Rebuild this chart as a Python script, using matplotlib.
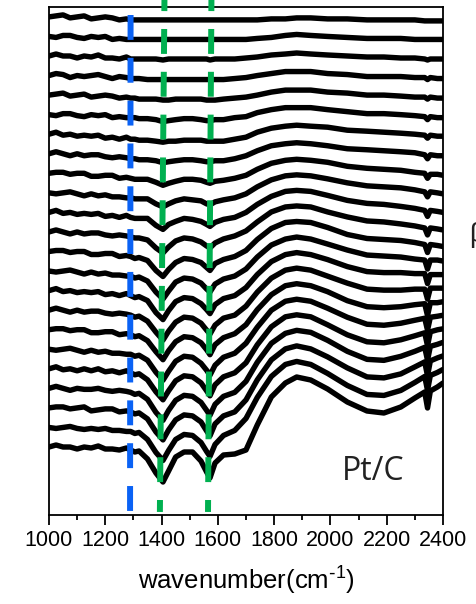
import matplotlib
matplotlib.use("Agg")
import matplotlib.pyplot as plt
from matplotlib.ticker import MultipleLocator, NullLocator
import matplotlib.transforms as mtransforms

plt.rcParams['font.family'] = ['Liberation Sans', 'DejaVu Sans']
plt.rcParams['mathtext.default'] = 'regular'

# wavenumber grid (cm-1) shared by all spectra
wavenumber = [1000, 1025, 1050, 1075, 1100, 1125, 1150, 1175, 1200, 1225, 1250, 1275,
              1290, 1305, 1320, 1350, 1380, 1405, 1425, 1450, 1480, 1510, 1540, 1560,
              1572, 1590, 1620, 1660,
              1700, 1740, 1790, 1840, 1880, 1930, 1990, 2060, 2130, 2190, 2250, 2300,
              2335, 2345, 2355, 2380, 2400]

# spectra relative to their value at 1000 cm-1 (a.u.), listed bottom to top
spectra = [
    [0, 2, 0, 0, -2, 0, -1, 1, -2, -2, -3, -1,
     -3, -5, -4, -12, -26, -35, -24, -10, -5, -5, -14, -25, -31, -16, -8, -7,
     -3, 22, 50, 64, 70, 67, 58, 45, 36, 34, 40, 49, 55, 39, 56, 60, 64],
    [0, -1, 0, 1, -1, -2, -1, -2, -1, -3, -3, -4,
     -4, -6, -5, -12, -25, -33, -23, -12, -7, -8, -15, -24, -29, -17, -8, -3,
     9, 30, 51, 63, 66, 63, 54, 42, 33, 32, 37, 45, 51, 37, 52, 55, 58],
    [0, 1, 1, -1, 0, 1, -3, -2, -1, -1, -4, -3,
     -4, -6, -5, -11, -24, -32, -22, -12, -7, -8, -14, -23, -28, -16, -8, -4,
     8, 28, 48, 59, 62, 59, 51, 40, 31, 30, 34, 41, 46, 32, 47, 50, 52],
    [0, 2, 0, -2, 0, -1, -1, 0, -2, -3, -2, -3,
     -4, -6, -5, -11, -24, -32, -22, -12, -7, -8, -14, -22, -27, -16, -8, -4,
     7, 26, 45, 55, 58, 56, 48, 37, 29, 28, 32, 37, 41, 28, 42, 44, 46],
    [0, 2, -1, 0, -2, 0, -2, 0, -3, -2, -4, -2,
     -4, -6, -5, -11, -23, -31, -22, -12, -7, -8, -14, -22, -27, -16, -8, -4,
     6, 24, 42, 52, 54, 52, 44, 34, 27, 26, 29, 33, 36, 23, 37, 39, 40],
    [0, -1, 0, 1, -1, -3, -1, -3, -2, -4, -4, -5,
     -5, -7, -6, -11, -23, -31, -22, -12, -7, -8, -14, -21, -26, -16, -8, -4,
     6, 22, 39, 48, 50, 48, 41, 32, 25, 24, 26, 29, 31, 19, 32, 33, 34],
    [0, 1, 1, -1, 0, 0, -3, -3, -2, -2, -5, -4,
     -5, -7, -6, -11, -22, -30, -21, -12, -7, -8, -13, -20, -25, -15, -8, -4,
     5, 20, 35, 44, 46, 44, 38, 29, 23, 22, 23, 25, 26, 14, 27, 27, 28],
    [0, 2, 0, -2, 0, -2, -1, -1, -3, -4, -3, -4,
     -5, -7, -6, -11, -22, -30, -21, -12, -7, -8, -13, -20, -24, -15, -8, -5,
     4, 18, 32, 40, 42, 40, 34, 27, 21, 20, 20, 21, 21, 11, 22, 22, 22],
    [0, 2, -1, 0, -2, -1, -2, -1, -4, -3, -5, -3,
     -5, -7, -6, -10, -22, -29, -20, -11, -7, -8, -13, -19, -23, -14, -8, -5,
     3, 16, 29, 36, 38, 36, 31, 24, 19, 18, 18, 17, 17, 7, 16, 16, 16],
    [0, -1, 0, 1, -1, -3, -1, -3, -2, -4, -4, -5,
     -5, -7, -6, -10, -21, -28, -20, -11, -7, -8, -12, -18, -21, -13, -8, -5,
     2, 14, 26, 32, 34, 32, 27, 21, 16, 15, 14, 12, 11, 2, 11, 11, 10],
    [0, 1, 1, -1, 0, 0, -3, -3, -2, -2, -5, -4,
     -5, -7, -6, -9, -19, -25, -18, -11, -7, -8, -11, -16, -19, -12, -8, -5,
     1, 12, 23, 29, 30, 29, 24, 17, 13, 12, 11, 9, 7, -1, 7, 6, 5],
    [0, 2, 0, -2, 0, -2, -1, -1, -3, -4, -3, -4,
     -5, -6, -6, -8, -16, -21, -15, -9, -6, -7, -10, -14, -16, -11, -7, -4,
     1, 10, 20, 25, 26, 25, 20, 15, 11, 10, 8, 6, 4, -3, 4, 3, 2],
    [0, 2, -1, 0, -2, -1, -2, -1, -4, -3, -5, -3,
     -5, -6, -6, -6, -13, -17, -12, -9, -6, -7, -9, -12, -14, -10, -7, -5,
     0, 8, 16, 21, 22, 21, 17, 12, 9, 8, 6, 4, 2, -4, 2, 1, 0],
    [0, -1, 0, 1, -1, -3, -1, -3, -2, -4, -4, -5,
     -5, -6, -6, -6, -11, -14, -11, -8, -6, -7, -8, -11, -12, -9, -7, -5,
     -1, 6, 13, 17, 18, 17, 14, 10, 7, 6, 5, 3, 1, -4, 1, 0, -1],
    [0, 1, 1, -1, 0, 0, -3, -3, -2, -2, -5, -4,
     -5, -6, -6, -6, -9, -12, -10, -8, -6, -6, -7, -9, -10, -8, -7, -5,
     -2, 4, 10, 13, 14, 13, 11, 7, 5, 4, 3, 1, 0, -5, -1, -1, -2],
    [0, 2, 0, -2, 0, -2, -1, -1, -3, -4, -3, -4,
     -5, -5, -6, -6, -7, -9, -8, -7, -6, -6, -7, -8, -8, -7, -7, -5,
     -2, 3, 8, 10, 11, 10, 8, 5, 4, 3, 2, 1, -1, -5, -1, -2, -2],
    [0, 2, -1, 0, -2, -1, -2, -1, -4, -3, -5, -3,
     -5, -5, -6, -6, -7, -8, -7, -7, -6, -6, -6, -7, -7, -7, -7, -5,
     -3, 2, 6, 8, 9, 8, 7, 4, 3, 2, 1, 0, -1, -4, -1, -2, -2],
    [0, -1, 1, 1, -1, -2, 0, -1, 0, -3, -2, -3,
     -3, -3, -4, -4, -5, -7, -6, -5, -4, -4, -5, -6, -6, -5, -5, -3,
     -2, 2, 5, 7, 7, 7, 5, 3, 1, 1, 0, -1, -2, -5, -2, -3, -3],
    [0, 1, 2, -1, 0, 1, -2, -1, 0, -1, -3, -2,
     -3, -3, -4, -4, -4, -5, -5, -4, -4, -4, -4, -5, -5, -5, -4, -3,
     -2, 0, 3, 5, 5, 5, 3, 2, 0, 0, -1, -2, -2, -4, -2, -3, -3],
    [0, 2, 1, -2, 0, -1, 0, 1, -1, -3, -1, -2,
     -3, -3, -3, -4, -4, -4, -4, -4, -4, -4, -4, -4, -4, -4, -4, -3,
     -2, 0, 2, 4, 4, 4, 2, 1, -1, -1, -1, -2, -2, -4, -2, -3, -3],
    [0, 2, 0, 0, -2, 0, -1, 1, -2, -2, -3, -1,
     -3, -3, -3, -3, -3, -4, -3, -3, -3, -3, -3, -3, -4, -3, -3, -3,
     -2, -1, 1, 2, 3, 2, 1, 0, -1, -1, -2, -2, -3, -4, -3, -3, -3],
    [0, -1, 1, 1, -1, -2, 0, -1, 0, -3, -2, -3,
     -3, -3, -3, -3, -3, -3, -3, -3, -3, -3, -3, -3, -3, -3, -3, -3,
     -3, -2, -1, 1, 2, 1, 0, -1, -2, -2, -2, -3, -3, -3, -3, -3, -3],
    [0, 1, 2, -1, 0, 1, -2, -1, 0, -1, -3, -2,
     -3, -3, -3, -3, -3, -3, -3, -3, -3, -3, -3, -3, -3, -3, -3, -3,
     -3, -3, -2, -2, -1, -1, -2, -2, -3, -3, -3, -3, -4, -4, -4, -4, -4],
]

# marked bands (cm-1): position at the bottom and at the top of the plot
band_blue = (1288, 1290)
band_green = [(1394, 1410), (1565, 1577)]

xticks = [1000, 1200, 1400, 1600, 1800, 2000, 2200, 2400]
sample_label = "Pt/C"

first_offset = 68.0
spacing = 19.55

fig = plt.figure(figsize=(4.77, 6.04), dpi=100)
ax = fig.add_axes([49 / 477, 89 / 604, 394 / 477, 508 / 604])

for i, spec in enumerate(spectra):
    off = first_offset + i * spacing
    ax.plot(wavenumber, [off + v for v in spec], color='black', lw=3.9,
            solid_joinstyle='round', solid_capstyle='round', zorder=2)

ax.set_xlim(1000, 2400)
ax.set_ylim(0, 508)
ax.set_xticks(xticks)
ax.xaxis.set_minor_locator(MultipleLocator(100))
ax.yaxis.set_major_locator(NullLocator())
ax.tick_params(axis='x', which='major', direction='out', length=7, width=1.3,
               labelsize=15.5, pad=4)
ax.tick_params(axis='x', which='minor', direction='out', length=3.6, width=1.3)
for s in ax.spines.values():
    s.set_linewidth(1.3)

ax.set_xlabel('wavenumber(cm$^{\\text{-}1}$)', fontsize=18.5, labelpad=10)

trans = mtransforms.blended_transform_factory(ax.transData, ax.transAxes)
lw_d = 4.3
ax.plot([band_blue[0], band_blue[1]], [0.008, 1.05], transform=trans, color='#0A62F5',
        lw=lw_d, linestyle=(0, (4.17, 3.0)), clip_on=False, zorder=5,
        dash_capstyle='butt')
for lo, hi in band_green:
    ax.plot([lo, hi + (hi - lo) * 0.05], [0.006, 1.05], transform=trans, color='#00B050',
            lw=lw_d, linestyle=(2.17, (4.17, 3.0)), clip_on=False, zorder=5,
            dash_capstyle='butt')

ax.text(0.744, 0.069, sample_label, transform=ax.transAxes, fontsize=23,
        family=['Open Sans', 'DejaVu Sans'], color='#222222', ha='left', va='baseline')
fig.text(469 / 477, 1 - 235 / 604, 'β', fontsize=20, family=['Liberation Sans', 'DejaVu Sans'],
         color='#222222', ha='left', va='center')

fig.savefig('out.png', dpi=100)
